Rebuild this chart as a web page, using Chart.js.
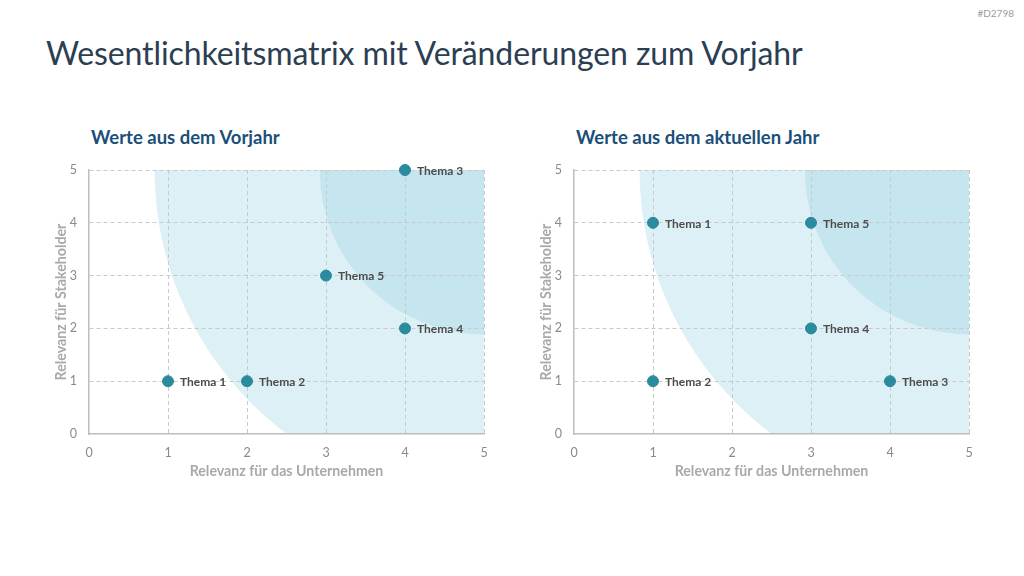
<!DOCTYPE html>
<html>
<head>
<meta charset="utf-8">
<script src="https://cdn.jsdelivr.net/npm/chart.js@4.4.1/dist/chart.umd.min.js"></script>
<style>
  html,body{margin:0;padding:0;background:#fff;}
  body{width:1024px;height:576px;position:relative;overflow:hidden;font-family:Lato,"Open Sans",sans-serif;}
  #code{position:absolute;right:10px;top:7px;font-size:10px;color:#9a9a9a;}
  #title{position:absolute;left:46px;top:33px;font-size:32px;color:#2c3e52;white-space:nowrap;letter-spacing:-0.1px;}
  .sub{position:absolute;top:126px;font-size:18.5px;font-weight:bold;color:#1b4f7a;white-space:nowrap;}
  .box{position:absolute;top:150px;width:460px;height:334px;}
</style>
</head>
<body>
<div id="code">#D2798</div>
<div id="title">Wesentlichkeitsmatrix mit Veränderungen zum Vorjahr</div>
<div class="sub" style="left:91px">Werte aus dem Vorjahr</div>
<div class="sub" style="left:576px">Werte aus dem aktuellen Jahr</div>
<div class="box" style="left:40px"><canvas id="c1"></canvas></div>
<div class="box" style="left:525px"><canvas id="c2"></canvas></div>
<script>
const themes = ['Thema 1','Thema 2','Thema 3','Thema 4','Thema 5'];
const prevX = [1, 2, 4, 4, 3];
const prevY = [1, 1, 5, 2, 3];
const currX = [1, 1, 4, 3, 3];
const currY = [4, 1, 1, 2, 4];
const axisTicks = [0, 1, 2, 3, 4, 5];
const xTitle = 'Relevanz für das Unternehmen';
const yTitle = 'Relevanz für Stakeholder';
// zone radii in x-axis units, measured from the top-right corner
const zoneOuter = 4.17;
const zoneInner = 2.08;

const zonesPlugin = {
  id: 'zones',
  beforeDraw(chart) {
    const {ctx, chartArea: a, scales: {x}} = chart;
    const unit = x.getPixelForValue(1) - x.getPixelForValue(0);
    ctx.save();
    ctx.beginPath();
    ctx.rect(a.left, a.top, a.right - a.left, a.bottom - a.top);
    ctx.clip();
    ctx.fillStyle = '#ddf0f6';
    ctx.beginPath();
    ctx.moveTo(a.right, a.top);
    ctx.arc(a.right, a.top, zoneOuter * unit, 0, Math.PI * 2);
    ctx.fill();
    ctx.fillStyle = '#c5e6ef';
    ctx.beginPath();
    ctx.moveTo(a.right, a.top);
    ctx.arc(a.right, a.top, zoneInner * unit, 0, Math.PI * 2);
    ctx.fill();
    ctx.restore();
  }
};

const labelPlugin = {
  id: 'ptlabels',
  afterDatasetsDraw(chart) {
    const {ctx} = chart;
    const meta = chart.getDatasetMeta(0);
    ctx.save();
    ctx.font = 'bold 12px Lato, "Open Sans", sans-serif';
    ctx.fillStyle = '#4d4d4d';
    ctx.textBaseline = 'middle';
    ctx.textAlign = 'left';
    meta.data.forEach((pt, i) => {
      ctx.fillText(chart.data.datasets[0].data[i].label, pt.x + 12, pt.y + 1);
    });
    ctx.restore();
  }
};

function makeChart(id, xs, ys) {
  const data = xs.map((v, i) => ({x: v, y: ys[i], label: themes[i]}));
  const gridCfg = {
    color: (c) => c.tick && c.tick.value === 0 ? 'rgba(0,0,0,0)' : '#c9c9c9',
    lineWidth: 1,
    drawTicks: false
  };
  const tickFont = {family: 'Lato, "Open Sans", sans-serif', size: 12.5};
  const titleFont = {family: 'Lato, "Open Sans", sans-serif', size: 14.2, weight: 'bold'};
  return new Chart(document.getElementById(id), {
    type: 'scatter',
    data: {
      datasets: [{
        data: data,
        backgroundColor: '#2a8a9e',
        borderColor: '#2a8a9e',
        pointRadius: 5.5,
        pointHoverRadius: 5.5,
        clip: false
      }]
    },
    options: {
      responsive: true,
      maintainAspectRatio: false,
      animation: false,
      events: [],
      layout: {padding: {top: 20, right: 16, bottom: 0, left: 0}},
      plugins: {legend: {display: false}, tooltip: {enabled: false}},
      scales: {
        x: {
          type: 'linear', min: axisTicks[0], max: axisTicks[axisTicks.length - 1],
          afterBuildTicks: (s) => { s.ticks = axisTicks.map(v => ({value: v})); },
          afterFit: (s) => { s.height = 50; },
          ticks: {color: '#8a8a8a', font: tickFont, padding: 11},
          grid: gridCfg,
          border: {display: true, color: '#bdbdbd', width: 1.5, dash: [4, 3]},
          title: {display: true, text: xTitle, color: '#a9a9a9', font: titleFont, padding: {top: 0, bottom: 4}}
        },
        y: {
          type: 'linear', min: axisTicks[0], max: axisTicks[axisTicks.length - 1],
          afterBuildTicks: (s) => { s.ticks = axisTicks.map(v => ({value: v})); },
          afterFit: (s) => { s.width = 49; },
          ticks: {color: '#8a8a8a', font: tickFont, padding: 12},
          grid: gridCfg,
          border: {display: true, color: '#bdbdbd', width: 1.5, dash: [4, 3]},
          title: {display: true, text: yTitle, color: '#a9a9a9', font: titleFont, padding: {top: 13, bottom: 0}}
        }
      }
    },
    plugins: [zonesPlugin, labelPlugin]
  });
}

makeChart('c1', prevX, prevY);
makeChart('c2', currX, currY);
</script>
</body>
</html>
